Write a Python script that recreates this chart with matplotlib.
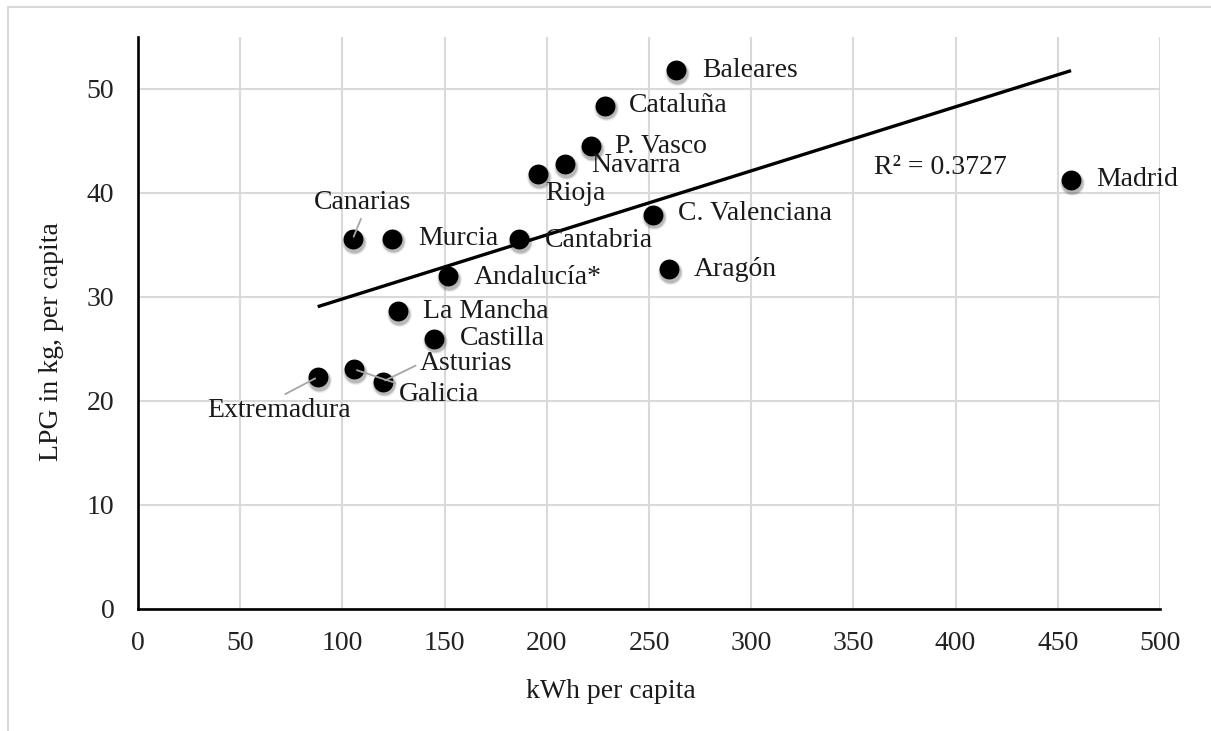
import numpy as np
import matplotlib
matplotlib.use("Agg")
import matplotlib.pyplot as plt
from matplotlib import transforms
from matplotlib.lines import Line2D

plt.rcParams['font.family'] = ['Liberation Serif', 'DejaVu Serif']

# ---- data ----
regions = ["Baleares", "Cataluña", "P. Vasco", "Navarra", "Rioja", "Madrid",
           "C. Valenciana", "Canarias", "Murcia", "Cantabria", "Andalucía*",
           "Aragón", "La Mancha", "Castilla", "Asturias", "Galicia", "Extremadura"]
kwh = [263.4, 228.5, 221.6, 208.9, 195.7, 456.5,
       251.8, 105.0, 124.4, 186.4, 151.8,
       259.8, 127.0, 145.0, 119.7, 105.8, 87.9]
lpg = [51.8, 48.4, 44.5, 42.75, 41.8, 41.25,
       37.9, 35.55, 35.6, 35.55, 32.0,
       32.66, 28.65, 26.0, 21.86, 23.05, 22.3]
r2_text = "R² = 0.3727"
x_ticks = [0, 50, 100, 150, 200, 250, 300, 350, 400, 450, 500]
y_ticks = [0, 10, 20, 30, 40, 50]

# label offsets in pixels (dx, dy, ha, leader)
label_style = {
    "Baleares": (26, 0, "left", False),
    "Cataluña": (24, 0, "left", False),
    "P. Vasco": (24, 0, "left", False),
    "Navarra": (26, -1, "left", False),
    "Rioja": (7, -19, "left", False),
    "Madrid": (25, 0, "left", False),
    "C. Valenciana": (25, 1, "left", False),
    "Canarias": (10, 37, "center", True),
    "Murcia": (26, 0, "left", False),
    "Cantabria": (26, -1, "left", False),
    "Andalucía*": (25, -1, "left", False),
    "Aragón": (25, 0, "left", False),
    "La Mancha": (25, 0, "left", False),
    "Castilla": (25, 0, "left", False),
    "Asturias": (37, 18, "left", True),
    "Galicia": (45, -25, "left", True),
    "Extremadura": (-39, -33, "center", True),
}

W, H, DPI = 1211, 731, 100
fig = plt.figure(figsize=(W / DPI, H / DPI), dpi=DPI)
fig.patch.set_facecolor("white")

# outer chart border (top & left visible)
fig.add_artist(Line2D([8 / W, 1], [1 - 7 / H, 1 - 7 / H], transform=fig.transFigure,
                      color="#d9d9d9", lw=1.5))
fig.add_artist(Line2D([8 / W, 8 / W], [0, 1 - 7 / H], transform=fig.transFigure,
                      color="#d9d9d9", lw=1.5))

L, R, B, T = 138, 1160, 609, 37
ax = fig.add_axes([L / W, 1 - B / H, (R - L) / W, (B - T) / H])
ax.set_xlim(0, 500)
ax.set_ylim(0, 55)
ax.set_xticks(x_ticks)
ax.set_yticks(y_ticks)
ax.grid(True, color="#d9d9d9", lw=1.5, zorder=0)
ax.set_axisbelow(True)
for s in ["top", "right"]:
    ax.spines[s].set_visible(False)
for s in ["left", "bottom"]:
    ax.spines[s].set_color("black")
    ax.spines[s].set_linewidth(1.9)
    ax.spines[s].set_zorder(3)
ax.tick_params(axis="both", length=0, labelsize=20, colors="#222222")
ax.tick_params(axis="x", pad=16)
ax.tick_params(axis="y", pad=17)

x = np.array(kwh)
y = np.array(lpg)

# trendline (OLS fit)
m, c = np.polyfit(x, y, 1)
xs = np.array([x.min(), x.max()])
ax.plot(xs, m * xs + c, color="black", lw=2.4, zorder=4, solid_capstyle="butt")

# marker shadows
for sz, a in [(330, 0.06), (280, 0.10), (240, 0.14)]:
    tr = transforms.offset_copy(ax.transData, fig=fig, x=1.0, y=-2.5, units="dots")
    ax.scatter(x, y, s=sz, color="black", alpha=a, lw=0, transform=tr, zorder=5)
ax.scatter(x, y, s=205, color="black", lw=0, zorder=6)

# labels
for name, xi, yi in zip(regions, x, y):
    dx, dy, ha, leader = label_style[name]
    kw = {}
    if leader:
        if name == "Canarias":
            rel = (0.5, 0.0)
        elif name == "Extremadura":
            rel = (0.5, 1.0)
        elif name == "Asturias":
            rel = (0.0, 0.5)
        else:
            rel = (0.0, 0.9)
        kw["arrowprops"] = dict(arrowstyle="-", color="#a6a6a6", lw=1.3,
                                shrinkA=1, shrinkB=2, relpos=rel)
    ax.annotate(name, xy=(xi, yi), xytext=(dx, dy), textcoords="offset pixels",
                ha=ha, va="center", fontsize=20, color="#1a1a1a", zorder=7, **kw)

# R^2 text
ax.text(0.0, 0.0, r2_text, fontsize=20, color="#1a1a1a", ha="left", va="center",
        transform=transforms.offset_copy(fig.transFigure, fig=fig, x=874, y=H - 168, units="dots"))

# axis titles
fig.text(611 / W, 1 - 692 / H, "kWh per capita", ha="center", va="center",
         fontsize=20, color="#1a1a1a")
fig.text(52 / W, 1 - 342 / H, "LPG in kg, per capita", ha="center", va="center",
         rotation=90, fontsize=20, color="#1a1a1a")

fig.savefig("out.png", dpi=DPI, facecolor="white")
